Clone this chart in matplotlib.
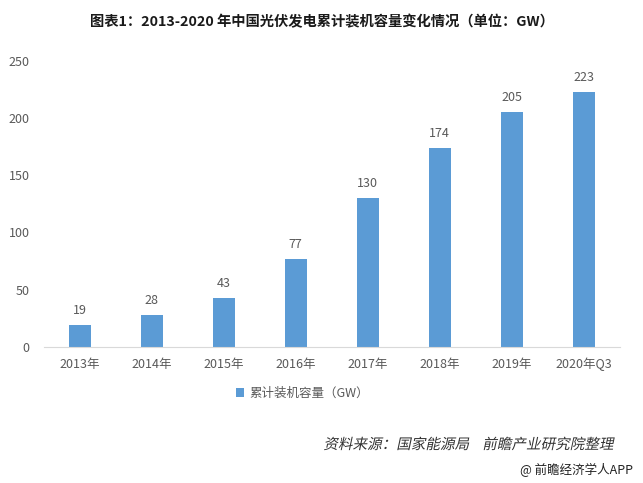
import matplotlib
matplotlib.use('Agg')
import matplotlib.pyplot as plt
from matplotlib.textpath import TextPath
from matplotlib.patches import PathPatch
from matplotlib.font_manager import FontProperties
from matplotlib.transforms import Affine2D

plt.rcParams['font.family'] = ['Noto Sans CJK SC', 'DejaVu Sans']

categories = ['2013年', '2014年', '2015年', '2016年', '2017年', '2018年', '2019年', '2020年Q3']
capacity = [19, 28, 43, 77, 130, 174, 205, 223]
yticks = [0, 50, 100, 150, 200, 250]

bar_color = '#5b9bd5'
text_color = '#595959'
DPI = 100

fig = plt.figure(figsize=(6.43, 4.83), dpi=DPI)
ax = fig.add_axes([0.068, 0.282, 0.896, 0.592])

x = range(len(categories))
bars = ax.bar(x, capacity, width=0.31, color=bar_color, label='累计装机容量（GW）')
for xi, v in zip(x, capacity):
    ax.text(xi, v + 7, str(v), ha='center', va='bottom', fontsize=9, color=text_color)

ax.set_xlim(-0.5, len(categories) - 0.5)
ax.set_ylim(0, 250)
ax.set_yticks(yticks)
ax.set_xticks(list(x))
ax.set_xticklabels(categories)
ax.tick_params(axis='both', length=0, labelsize=9, colors=text_color)
ax.tick_params(axis='x', pad=8)
ax.tick_params(axis='y', pad=10)
for s in ['top', 'right', 'left']:
    ax.spines[s].set_visible(False)
ax.spines['bottom'].set_color('#d9d9d9')

fig.text(0.5, 0.955, '图表1：2013-2020 年中国光伏发电累计装机容量变化情况（单位：GW）',
         ha='center', va='center', fontsize=10.3, fontweight='bold', color='#1a1a1a')

fig.legend(handles=[bars], loc='center', bbox_to_anchor=(0.47, 0.186), frameon=False,
           fontsize=9, handlelength=0.7, handleheight=0.7, handletextpad=0.4,
           labelcolor=text_color)

# CJK font has no italic, so slant the source line by hand
source = '资料来源：国家能源局    前瞻产业研究院整理'
tp = TextPath((0, 0), source, size=10.5, prop=FontProperties(family='Noto Sans CJK SC'))
bb = tp.get_extents()
scale = DPI / 72.0
right_px, base_px = 613, 483 - 449
tr = (Affine2D().translate(-bb.x1, 0).scale(scale).skew_deg(12, 0)
      .translate(right_px, base_px))
fig.patches.append(PathPatch(tr.transform_path(tp), facecolor='#333333', edgecolor='none',
                             transform=None, figure=fig))

fig.text(0.985, 0.027, '@ 前瞻经济学人APP', ha='right', va='center', fontsize=9,
         color='#222222')

fig.savefig('out.png', dpi=DPI)
